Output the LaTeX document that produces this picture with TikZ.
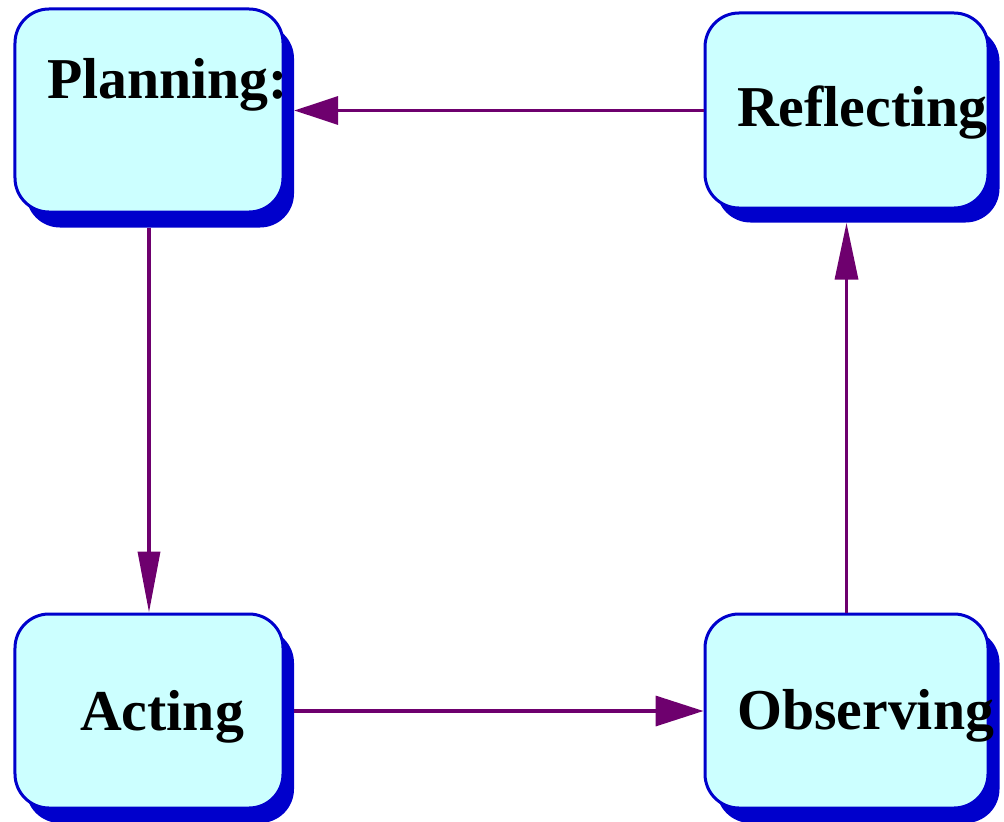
\documentclass[tikz,border=0pt]{standalone}
\usepackage{fontspec}
\setmainfont{Liberation Serif}
\usetikzlibrary{arrows.meta}
\definecolor{boxfill}{RGB}{204,255,255}
\definecolor{boxline}{RGB}{0,0,204}
\definecolor{flowcol}{RGB}{110,0,110}
\tikzset{
  stage/.style={draw=boxline,fill=boxfill,line width=3bp,rounded corners=34bp,inner sep=0pt},
  stageshadow/.style={fill=boxline,rounded corners=34bp,inner sep=0pt},
  stagetext/.style={anchor=base west,inner sep=0pt,font=\fontsize{58}{60}\selectfont\bfseries},
  flowhead/.style 2 args={draw=flowcol,line width=3.5bp,-{Triangle[length=#1,width=#2,fill=flowcol]}},
}
\begin{document}
\begin{tikzpicture}[x=1bp,y=-1bp]
\useasboundingbox (0,0) rectangle (1004,822);
%% shadows
\node (plan-sh) at (160,126) [stageshadow,minimum width=268bp,minimum height=203bp] {};
\node (refl-sh) at (858,125) [stageshadow,minimum width=283bp,minimum height=195bp] {};
\node (act-sh) at (160,726) [stageshadow,minimum width=268bp,minimum height=194bp] {};
\node (obs-sh) at (858,726) [stageshadow,minimum width=283bp,minimum height=194bp] {};
%% boxes
\node (plan) at (149,110.5) [stage,minimum width=268bp,minimum height=203bp] {};
\node (refl) at (846.5,110.5) [stage,minimum width=283bp,minimum height=195bp] {};
\node (act) at (149,711) [stage,minimum width=268bp,minimum height=194bp] {};
\node (obs) at (846.5,711) [stage,minimum width=283bp,minimum height=194bp] {};
%% texts
\node (plan-text) at (47,99) [stagetext] {Planning:};
\node (refl-text) at (737,126) [stagetext] {Reflecting};
\node (act-text) at (80,730) [stagetext] {Acting};
\node (obs-text) at (737,729) [stagetext] {Observing};
%% flows
\draw [flowhead={61bp}{22bp}] (plan.center |- plan-sh.south) -- (act.north);
\draw [flowhead={48bp}{30bp}] (act-sh.east |- act.center) -- (obs.west);
\draw [flowhead={57bp}{23bp}] (obs.north) -- (obs.center |- refl-sh.south);
\draw [flowhead={44bp}{28bp}] (refl.west) -- (plan-sh.east |- plan.center);
%
\end{tikzpicture}
\end{document}
